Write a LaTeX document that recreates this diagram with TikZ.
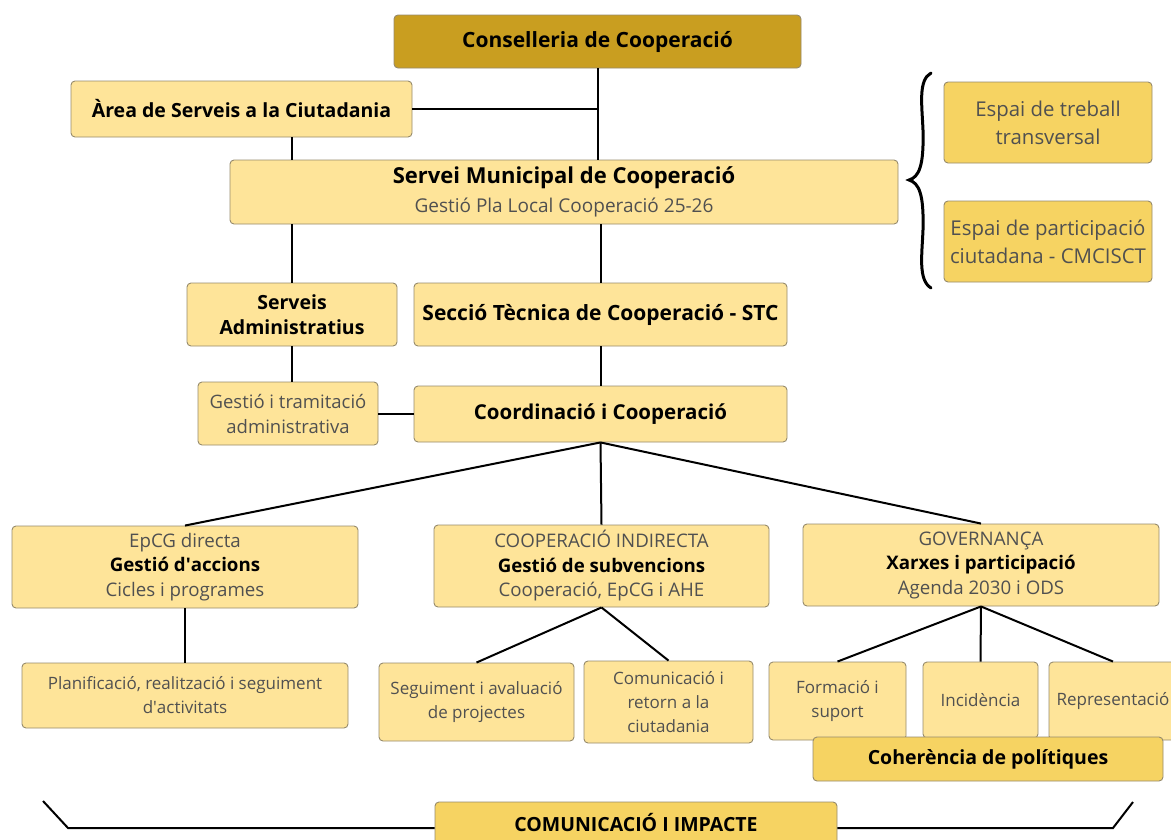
\documentclass[tikz,border=0pt]{standalone}
\usepackage{fontspec}
\setmainfont{Open Sans}
\usepackage{tikz}
\usetikzlibrary{calc}
\definecolor{darkgold}{RGB}{201,158,32}
\definecolor{lightgold}{RGB}{254,228,153}
\definecolor{midgold}{RGB}{246,211,98}
\definecolor{edgegray}{RGB}{150,138,108}
\definecolor{textgray}{RGB}{80,80,80}
\newcommand{\boxline}{0.9pt}
\newcommand{\linkwidth}{2pt}
\newcommand{\tit}[1]{\textcolor{black}{\bfseries #1}}
\newcommand{\fsz}[2]{\fontsize{#1}{#2}\selectfont}

\begin{document}
\begin{tikzpicture}[x=1pt,y=-1pt,
  box/.style={draw=edgegray, fill=lightgold, line width=\boxline, rounded corners=4pt, inner sep=2pt, align=center, text=textgray, font=\fsz{17}{24}},
  link/.style={draw=black, line width=\linkwidth}]
\useasboundingbox (0,0) rectangle (1171,839);
%top
\node[box, fill=darkgold] (cons) at (597.5, 41.5) [minimum width=407pt, minimum height=53pt, font=\fsz{21}{26}] {\tit{Conselleria de Cooperació}};
\node[box] (area) at (241.5, 109) [minimum width=341pt, minimum height=56pt, font=\fsz{19.5}{25}] {\tit{Àrea de Serveis a la Ciutadania}};
\node[box] (smc) at (564, 192) [minimum width=668pt, minimum height=64pt, font=\fsz{19}{29}] {\tit{\fsz{22}{29}Servei Municipal de Cooperació}\\Gestió Pla Local Cooperació 25-26};
%espais
\node[box, fill=midgold] (esp1) at (1048, 122.5) [minimum width=208pt, minimum height=81pt, font=\fsz{20.4}{28}] {Espai de treball\\transversal};
\node[box, fill=midgold] (esp2) at (1048, 241.5) [minimum width=208pt, minimum height=81pt, font=\fsz{20.4}{28}] {Espai de participació\\ciutadana - CMCISCT};
%seccions
\node[box] (sadm) at (292, 314.5) [minimum width=210pt, minimum height=63pt, font=\fsz{19.5}{25}] {\tit{Serveis}\\\tit{Administratius}};
\node[box] (stc) at (600.5, 314.5) [minimum width=373pt, minimum height=63pt, font=\fsz{21}{26}] {\tit{Secció Tècnica de Cooperació - STC}};
\node[box] (gest) at (288, 413.5) [minimum width=180pt, minimum height=63pt, font=\fsz{18.5}{25}] {Gestió i tramitació\\administrativa};
\node[box] (coord) at (600.5, 414) [minimum width=373pt, minimum height=56pt, font=\fsz{20.5}{26}] {\tit{Coordinació i Cooperació}};
%linies
\node[box] (epcg) at (185, 567) [minimum width=346pt, minimum height=82pt, font=\fsz{18.7}{24.5}] {EpCG directa\\\tit{Gestió d\textquotesingle accions}\\Cicles i programes};
\node[box] (indir) at (601.5, 566) [minimum width=335pt, minimum height=82pt, font=\fsz{18.7}{24.5}] {COOPERACIÓ INDIRECTA\\\tit{Gestió de subvencions}\\Cooperació, EpCG i AHE};
\node[box] (gov) at (981, 565) [minimum width=356pt, minimum height=82pt, font=\fsz{18.7}{24.5}] {GOVERNANÇA\\\tit{Xarxes i participació}\\Agenda 2030 i ODS};
%tasques
\node[box] (plan) at (185, 695.5) [minimum width=326pt, minimum height=65pt] {Planificació, realització i seguiment\\d\textquotesingle activitats};
\node[box] (seg) at (476.5, 702) [minimum width=195pt, minimum height=78pt] {Seguiment i avaluació\\de projectes};
\node[box] (com) at (668.5, 702) [minimum width=169pt, minimum height=82pt] {Comunicació i\\retorn a la\\ciutadania};
\node[box] (form) at (837.5, 701) [minimum width=137pt, minimum height=78pt] {Formació i\\suport};
\node[box] (inc) at (980.5, 700) [minimum width=115pt, minimum height=76pt] {Incidència};
\node[box] (rep) at (1113, 701) [minimum width=128pt, minimum height=78pt] {Representació};
\node[box, fill=midgold] (coh) at (988, 759) [minimum width=350pt, minimum height=44pt, font=\fsz{19.5}{25}] {\tit{Coherència de polítiques}};
\node[box, fill=midgold] (imp) at (636, 823) [minimum width=402pt, minimum height=42pt, font=\fsz{19.5}{25}] {\tit{COMUNICACIÓ I IMPACTE}};
%connexions
\draw[link] (cons.south) -- (cons.south |- smc.north);
\draw[link] (area.east) -- (area.east -| cons.south);
\draw[link] (sadm.north |- area.south) -- (sadm.north |- smc.north);
\draw[link] (sadm.north |- smc.south) -- (sadm.north);
\draw[link] (stc.north |- smc.south) -- (stc.north);
\draw[link] (sadm.south) -- (sadm.south |- gest.north);
\draw[link] (stc.south) -- (coord.north);
\draw[link] (gest.east) -- (gest.east -| coord.west);
\draw[link] (coord.south) -- (epcg.north);
\draw[link] (coord.south) -- (indir.north);
\draw[link] (coord.south) -- (gov.north);
\draw[link] (epcg.south) -- (plan.north);
\draw[link] (indir.south) -- (seg.north);
\draw[link] (indir.south) -- (com.north);
\draw[link] (gov.south) -- (form.north);
\draw[link] (gov.south) -- (inc.north);
\draw[link] (gov.south) -- (rep.north);
%claus
\draw[line width=3pt, line cap=round] (931,73) .. controls (918,80) and (922,105) .. (923,130) .. controls (924,166) and (919,177) .. (909,180) .. controls (919,183) and (924,194) .. (923,230) .. controls (922,255) and (918,280) .. (931,288);
\coordinate (bl1) at (43,801);
\coordinate (bl2) at (68,828);
\coordinate (br1) at (1133,802);
\coordinate (br2) at (1113,828);
\draw[link] (bl1) -- (bl2) -- (bl2 -| imp.west);
\draw[link] (br1) -- (br2) -- (br2 -| imp.east);
\end{tikzpicture}
\end{document}
